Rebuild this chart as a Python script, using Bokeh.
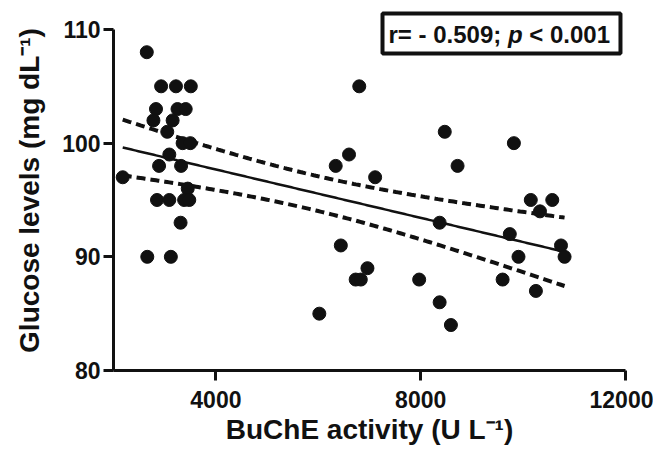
import numpy as np
from bokeh.plotting import figure
from bokeh.models import Range1d, FixedTicker, Label, BoxAnnotation
from bokeh.embed import file_html
from bokeh.resources import INLINE

# ---- data ----
buche = [2180, 2650, 2930, 3220, 3510, 2830, 3250, 3410, 2780, 3155,
         3050, 3350, 3500, 3090, 2890, 3320, 3450, 2850, 3090, 3380,
         3480, 3310, 2660, 3120,
         6020, 6340, 6600, 6440, 6800, 6730, 6830, 6960, 7110, 7970,
         8370, 8370, 8470, 8590, 8720, 9600, 9740, 9820, 9910, 10150,
         10330, 10570, 10250, 10740, 10810]
glucose = [97, 108, 105, 105, 105, 103, 103, 103, 102, 102,
           101, 100, 100, 99, 98, 98, 96, 95, 95, 95,
           95, 93, 90, 90,
           85, 98, 99, 91, 105, 88, 88, 89, 97, 88,
           93, 86, 101, 84, 98, 88, 92, 100, 90, 95,
           94, 95, 87, 91, 90]
x_ticks = [4000, 8000, 12000]
y_ticks = [80, 90, 100, 110]
stat_parts = ["r= - 0.509;", "p", "< 0.001"]
x_title = "BuChE activity (U L\u207b\u00b9)"
y_title = "Glucose levels (mg dL\u207b\u00b9)"

FONT = "Liberation Sans"
INK = "#111111"

# ---- regression + 95% confidence band ----
x = np.array(buche, float)
y = np.array(glucose, float)
n = len(x)
slope, intercept = np.polyfit(x, y, 1)
xs = np.linspace(x.min(), x.max(), 200)
yhat = intercept + slope * xs
resid = y - (intercept + slope * x)
s = np.sqrt(np.sum(resid ** 2) / (n - 2))
sxx = np.sum((x - x.mean()) ** 2)
t_crit = 2.012
half = t_crit * s * np.sqrt(1.0 / n + (xs - x.mean()) ** 2 / sxx)

p = figure(width=653, height=451, output_backend="svg", toolbar_location=None,
           x_range=Range1d(2000, 12000), y_range=Range1d(80, 111.67),
           min_border_left=113, min_border_right=28, min_border_top=10,
           min_border_bottom=81)
p.outline_line_color = None
p.grid.visible = False
p.background_fill_color = "white"
p.border_fill_color = "white"

for ax, ticks in ((p.xaxis, x_ticks), (p.yaxis, y_ticks)):
    ax.ticker = FixedTicker(ticks=ticks)
    ax.axis_line_width = 3
    ax.axis_line_color = INK
    ax.major_tick_line_width = 3
    ax.major_tick_line_color = INK
    ax.major_tick_out = 10
    ax.major_tick_in = 0
    ax.minor_tick_line_color = None
    ax.major_label_text_font = FONT
    ax.major_label_text_font_size = "23px"
    ax.major_label_text_font_style = "bold"
    ax.major_label_text_color = INK
    ax.axis_label_text_font = FONT
    ax.axis_label_text_font_size = "28px"
    ax.axis_label_text_font_style = "bold"
    ax.axis_label_text_color = INK

p.yaxis.bounds = (80, 110)
p.yaxis.major_label_standoff = 3
p.yaxis.axis_label = y_title
p.yaxis.axis_label_standoff = 14
p.xaxis.major_label_standoff = 10
p.xaxis.axis_label = x_title
p.xaxis.axis_label_standoff = 3

# lines
p.line(xs, yhat, line_color=INK, line_width=2.5)
p.line(xs, yhat + half, line_color=INK, line_width=4, line_dash="9 5")
p.line(xs, yhat - half, line_color=INK, line_width=4, line_dash="9 5")

# points
p.scatter(buche, glucose, size=13, fill_color=INK, line_color=INK)

# statistic box
p.add_layout(BoxAnnotation(left=7254, right=11902, bottom=107.89, top=111.41,
                           fill_color="white", fill_alpha=1.0,
                           line_color=INK, line_alpha=1.0, line_width=4))
px_per_x = 512 / 10000.0
w1 = 4.697 * 24 / px_per_x
wsp = 0.278 * 24 / px_per_x
wp = 0.611 * 24 / px_per_x
x0 = 7371
xp = [x0, x0 + w1 + wsp, x0 + w1 + wsp + wp + wsp]
styles = ["bold", "bold italic", "bold"]
for txt, xx, st in zip(stat_parts, xp, styles):
    p.add_layout(Label(x=xx, y=109.6, text=txt, text_align="left",
                       text_baseline="middle", text_font=FONT,
                       text_font_size="24px", text_font_style=st,
                       text_color=INK))

open("out.html", "w").write(file_html(p, INLINE))
